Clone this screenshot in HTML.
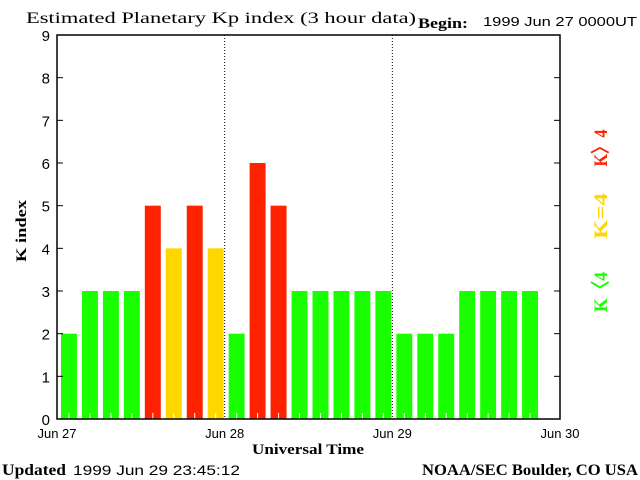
<!DOCTYPE html>
<html><head><meta charset="utf-8"><style>
html,body{margin:0;padding:0;background:#fff;}
svg{display:block;}
.t{font-family:"Liberation Serif",serif;font-weight:bold;}
.s{font-family:"Liberation Sans",sans-serif;}
</style></head><body>
<svg id="chart" width="640" height="480" viewBox="0 0 640 480" xmlns="http://www.w3.org/2000/svg">
<text x="26" y="23" font-size="16" class="t" style="font-weight:normal" textLength="390" lengthAdjust="spacingAndGlyphs">Estimated Planetary Kp index (3 hour data)</text>
<text x="418" y="28" font-size="15" class="t" textLength="50" lengthAdjust="spacingAndGlyphs">Begin:</text>
<text x="483" y="26" font-size="13" class="s" textLength="154" lengthAdjust="spacingAndGlyphs">1999 Jun 27 0000UT</text>
<g id="bars"></g>
<g id="axes"></g>
<text x="26" y="231" font-size="15" class="t" transform="rotate(-90 26 231)" text-anchor="middle" textLength="62" lengthAdjust="spacingAndGlyphs">K index</text>
<text x="308" y="454" font-size="15" class="t" text-anchor="middle" textLength="112" lengthAdjust="spacingAndGlyphs">Universal Time</text>
<text x="2" y="475" font-size="16" class="t" textLength="64" lengthAdjust="spacingAndGlyphs">Updated</text>
<text x="73" y="475" font-size="14" class="s" textLength="167" lengthAdjust="spacingAndGlyphs">1999 Jun 29 23:45:12</text>
<text x="422" y="475" font-size="16" class="t" textLength="216" lengthAdjust="spacingAndGlyphs">NOAA/SEC Boulder, CO USA</text>
<text x="607" y="148" font-size="19" class="t" fill="#ff2200" text-anchor="middle" transform="rotate(-90 607 148)" textLength="37" lengthAdjust="spacingAndGlyphs">K〉4</text>
<text x="607" y="216" font-size="19" class="t" fill="#ffd700" text-anchor="middle" transform="rotate(-90 607 216)" textLength="46" lengthAdjust="spacingAndGlyphs">K=4</text>
<text x="607" y="292" font-size="19" class="t" fill="#1aff00" text-anchor="middle" transform="rotate(-90 607 292)" textLength="40" lengthAdjust="spacingAndGlyphs">K〈4</text>
</svg>
<script>
const kpValues = [2,3,3,3,5,4,5,4,2,6,5,3,3,3,3,3,2,2,2,3,3,3,3];
const yTicks = [0,1,2,3,4,5,6,7,8,9];
const dayLabels = ["Jun 27","Jun 28","Jun 29","Jun 30"];
const slotsPerDay = 8;

const NS="http://www.w3.org/2000/svg";
const X0=57,X1=560,Y0=419,Y1=35,YMAX=9;
const nSlots=(dayLabels.length-1)*slotsPerDay;
const slotW=(X1-X0)/nSlots;
function xs(i){return X0+i*slotW;}
function ys(v){return Y0-(Y0-Y1)*v/YMAX;}
function mk(tag,attrs,parent){const e=document.createElementNS(NS,tag);for(const k in attrs)e.setAttribute(k,attrs[k]);parent.appendChild(e);return e;}
const bars=document.getElementById('bars');
const axes=document.getElementById('axes');
kpValues.forEach((v,i)=>{
  const col=v>4?'#ff2200':(v===4?'#ffd700':'#1aff00');
  const r=mk('rect',{x:xs(i)+4,y:ys(v),width:slotW-5,height:Y0-ys(v),fill:col},bars);
  
  
  const t=mk('line',{x1:xs(i)+slotW/2+1.5,x2:xs(i)+slotW/2+1.5,y1:Y0,y2:Y0-6,stroke:'#fff','stroke-width':1},bars);
  
  
});
for(let d=1;d<dayLabels.length-1;d++){
  const x=xs(d*slotsPerDay);
  const l=mk('line',{x1:x,x2:x,y1:Y1,y2:Y0,stroke:'#000','stroke-width':1,'stroke-dasharray':'1,2'},axes);
  
  
}
const fr=mk('rect',{x:X0,y:Y1,width:X1-X0,height:Y0-Y1,fill:'none',stroke:'#000','stroke-width':1.5},axes);


yTicks.forEach(v=>{
  const y=ys(v);
  mk('line',{x1:X0,x2:X0+6,y1:y,y2:y,stroke:'#000'},axes);
  mk('line',{x1:X1-6,x2:X1,y1:y,y2:y,stroke:'#000'},axes);
  const t=mk('text',{x:50,y:y+6,'font-size':15,'text-anchor':'end','font-family':'Liberation Sans, sans-serif'},axes);
  t.textContent=v;
  
  
});
dayLabels.forEach((s,d)=>{
  const t=mk('text',{x:xs(d*slotsPerDay),y:438,'font-size':13,'text-anchor':'middle','font-family':'Liberation Sans, sans-serif'},axes);
  t.textContent=s;
  
  
});
</script>
</body></html>
